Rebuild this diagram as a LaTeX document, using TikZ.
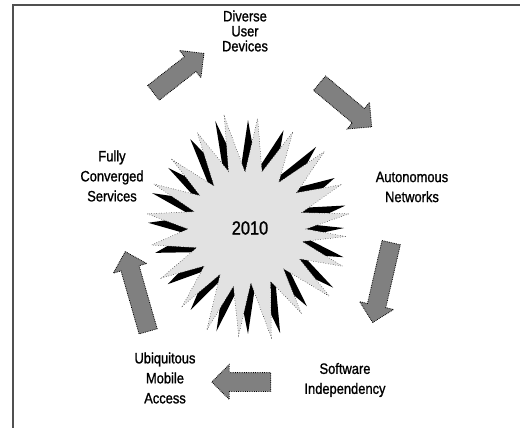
\documentclass[tikz,border=0pt]{standalone}
\usepackage{fontspec}
\setmainfont{Liberation Sans}[FakeStretch=0.86,FakeBold=1.2]
\usepackage{tikz}
\usetikzlibrary{shapes.arrows}

\definecolor{burst}{HTML}{E2E2E2}
\definecolor{arrowgray}{HTML}{808080}
\definecolor{framegray}{HTML}{505050}

\begin{document}
\begin{tikzpicture}[x=1pt,y=-1pt]
	\tikzstyle{stage}=[align=center,inner sep=0pt,font=\fontsize{15}{20}\selectfont]
	\tikzstyle{flow}=[single arrow,draw=black,densely dotted,line width=0.8pt,fill=arrowgray,inner xsep=0pt,inner ysep=9pt,single arrow head extend=8pt]
	\useasboundingbox (0,0) rectangle (520,428);
	\draw[framegray,line width=2pt] (13,428) -- (13,5) -- (520,5);
	\begin{scope}[shift={(248,228)}]
		\fill[black,rotate=5] (5:96) \foreach \a/\r/\s in {5/96/56,22/100/60,40/104/54,58/98/58,78/110/55,95/106/60,112/108/54,130/100/58,150/98/55,170/96/60,188/100/56,205/102/58,222/100/54,242/106/60,258/112/56,275/108/58,295/104/55,315/106/60,335/100/56,352/100/58} {-- (\a:\r) -- (\a+9:\s)} -- cycle;
		\filldraw[fill=burst,draw=black,dotted,line width=0.5pt] (5:98) \foreach \a/\r/\s in {5/98/56,22/102/60,40/106/54,58/100/58,78/112/55,95/108/60,112/110/54,130/102/58,150/100/55,170/98/60,188/102/56,205/104/58,222/102/54,242/108/60,258/114/56,275/110/58,295/106/55,315/108/60,335/102/56,352/102/58} {-- (\a:\r) -- (\a+9:\s)} -- cycle;
	\end{scope}
	\node[stage,font=\fontsize{19}{20}\selectfont] (year) at (250,228) {2010};
	\node[stage,font=\fontsize{15}{15}\selectfont] (devices) at (245,31) {Diverse\\User\\Devices};
	\node[stage] (networks) at (412,187) {Autonomous\\Networks};
	\node[stage] (software) at (345,380) {Software\\Independency};
	\node[stage] (access) at (165,378) {Ubiquitous\\Mobile\\Access};
	\node[stage] (services) at (112,176) {Fully\\Converged\\Services};
	\node[flow,minimum height=64,rotate=38] (a1) at (175,76) {};
	\node[flow,minimum height=68,rotate=-40] (a2) at (342,102) {};
	\node[flow,minimum height=82,rotate=-103] (a3) at (383,278) {};
	\node[flow,minimum height=59,rotate=180] (a4) at (246,382) {};
	\node[flow,minimum height=83,rotate=106] (a5) at (138,296) {};
\end{tikzpicture}
\end{document}
